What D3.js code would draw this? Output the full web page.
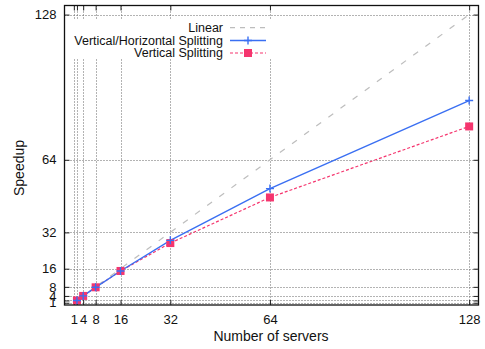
<!DOCTYPE html>
<html>
<head>
<meta charset="utf-8">
<script src="https://cdn.jsdelivr.net/npm/d3@7"></script>
<style>
  body { margin: 0; background: #fff; }
  svg { display: block; font-family: "Liberation Sans", Arial, Helvetica, sans-serif; }
</style>
</head>
<body>
<svg id="chart" width="485" height="349"></svg>
<script>
// Speedup versus number of servers
const servers = [2, 4, 8, 16, 32, 64, 128];
const vhSplitting = [2, 4, 7.8, 15, 28.5, 51.3, 90.1];
const vSplitting = [2, 4, 7.8, 15, 27.3, 47.4, 78.7];
const linearX = [1, 128];
const gridValues = [1, 2, 4, 8, 16, 32, 64, 128];
const tickLabels = ["1", "", "4", "8", "16", "32", "64", "128"];
const seriesNames = ["Linear", "Vertical/Horizontal Splitting", "Vertical Splitting"];

const W = 485, H = 349;
const m = { left: 64.5, right: 478.5, top: 5.5, bottom: 305 };

const svg = d3.select("#chart");
const x = d3.scaleLinear().domain([-2, 131]).range([m.left, m.right]);
const y = d3.scaleLinear().domain([0, 132]).range([m.bottom, m.top]);

const labelOf = v => tickLabels[gridValues.indexOf(v)];

// dotted grid
const grid = svg.append("g").attr("stroke", "#666").attr("stroke-width", 1)
  .attr("stroke-dasharray", "1,2").attr("fill", "none");
grid.selectAll("line.gx").data(gridValues).join("line").attr("class", "gx")
  .attr("x1", d => Math.round(x(d)) + 0.5).attr("x2", d => Math.round(x(d)) + 0.5)
  .attr("y1", m.top).attr("y2", m.bottom);
grid.selectAll("line.gy").data(gridValues).join("line").attr("class", "gy")
  .attr("y1", d => Math.round(y(d)) + 0.5).attr("y2", d => Math.round(y(d)) + 0.5)
  .attr("x1", m.left).attr("x2", m.right);

// axes with inward ticks, mirrored on top and right
const tickLen = 5;
const axB = svg.append("g").attr("transform", `translate(0,${m.bottom})`)
  .call(d3.axisBottom(x).tickValues(gridValues).tickSize(-tickLen).tickPadding(10).tickFormat(labelOf));
const axT = svg.append("g").attr("transform", `translate(0,${m.top})`)
  .call(d3.axisTop(x).tickValues(gridValues).tickSize(-tickLen).tickFormat(""));
const axL = svg.append("g").attr("transform", `translate(${m.left},0)`)
  .call(d3.axisLeft(y).tickValues(gridValues).tickSize(-tickLen).tickPadding(8).tickFormat(labelOf));
const axR = svg.append("g").attr("transform", `translate(${m.right},0)`)
  .call(d3.axisRight(y).tickValues(gridValues).tickSize(-tickLen).tickFormat(""));
[axB, axT, axL, axR].forEach(g => {
  g.select(".domain").remove();
  g.selectAll(".tick line").attr("stroke", "#222");
  g.selectAll("text").attr("fill", "#111").style("font-size", "13px")
    .style("font-family", "'Liberation Sans', Arial, sans-serif");
});

// linear reference
const line = d3.line().x(d => x(d[0])).y(d => y(d[1]));
svg.append("path").datum(linearX.map(v => [v, v])).attr("d", line)
  .attr("fill", "none").attr("stroke", "#bdbdbd").attr("stroke-width", 1.2)
  .attr("stroke-dasharray", "6,9");

const blue = "#3a6ff2", red = "#f5356e";

// vertical splitting
svg.append("path").datum(servers.map((s, i) => [s, vSplitting[i]])).attr("d", line)
  .attr("fill", "none").attr("stroke", red).attr("stroke-width", 1.2)
  .attr("stroke-dasharray", "3,2");
// vertical/horizontal splitting
svg.append("path").datum(servers.map((s, i) => [s, vhSplitting[i]])).attr("d", line)
  .attr("fill", "none").attr("stroke", blue).attr("stroke-width", 1.4);

const sq = 8;
svg.append("g").selectAll("rect").data(servers.map((s, i) => [s, vSplitting[i]])).join("rect")
  .attr("x", d => x(d[0]) - sq / 2).attr("y", d => y(d[1]) - sq / 2)
  .attr("width", sq).attr("height", sq).attr("fill", red);
const pl = 4;
svg.append("g").selectAll("path").data(servers.map((s, i) => [s, vhSplitting[i]])).join("path")
  .attr("d", d => `M${x(d[0]) - pl},${y(d[1])}H${x(d[0]) + pl}M${x(d[0])},${y(d[1]) - pl}V${y(d[1]) + pl}`)
  .attr("stroke", blue).attr("stroke-width", 1.4).attr("fill", "none");

// legend on an opaque background
const leg = svg.append("g");
leg.append("rect").attr("x", 66).attr("y", 20).attr("width", 208).attr("height", 39).attr("fill", "#fff");
const rowY = [27.7, 40.5, 53];
const sx1 = 230, sx2 = 266, smid = 248;
seriesNames.forEach((name, i) => {
  leg.append("text").attr("x", 223).attr("y", rowY[i]).attr("dy", "0.35em")
    .attr("text-anchor", "end").style("font-size", "12.5px").attr("fill", "#111").text(name);
});
leg.append("line").attr("x1", sx1).attr("x2", sx2).attr("y1", rowY[0]).attr("y2", rowY[0])
  .attr("stroke", "#bdbdbd").attr("stroke-width", 1.2).attr("stroke-dasharray", "5,5");
leg.append("line").attr("x1", sx1).attr("x2", sx2).attr("y1", rowY[1]).attr("y2", rowY[1])
  .attr("stroke", blue).attr("stroke-width", 1.4);
leg.append("path").attr("d", `M${smid - pl},${rowY[1]}H${smid + pl}M${smid},${rowY[1] - pl}V${rowY[1] + pl}`)
  .attr("stroke", blue).attr("stroke-width", 1.4);
leg.append("line").attr("x1", sx1).attr("x2", sx2).attr("y1", rowY[2]).attr("y2", rowY[2])
  .attr("stroke", red).attr("stroke-width", 1.2).attr("stroke-dasharray", "3,2");
leg.append("rect").attr("x", smid - sq / 2).attr("y", rowY[2] - sq / 2).attr("width", sq).attr("height", sq).attr("fill", red);

// frame
svg.append("rect").attr("x", m.left).attr("y", m.top).attr("width", m.right - m.left)
  .attr("height", m.bottom - m.top).attr("fill", "none").attr("stroke", "#111").attr("stroke-width", 1.3);

// axis titles
svg.append("text").attr("x", 271).attr("y", 341).attr("text-anchor", "middle")
  .style("font-size", "14px").attr("fill", "#111").text("Number of servers");
svg.append("text").attr("transform", "translate(24,168) rotate(-90)").attr("text-anchor", "middle")
  .style("font-size", "14px").attr("fill", "#111").text("Speedup");
</script>
</body>
</html>
